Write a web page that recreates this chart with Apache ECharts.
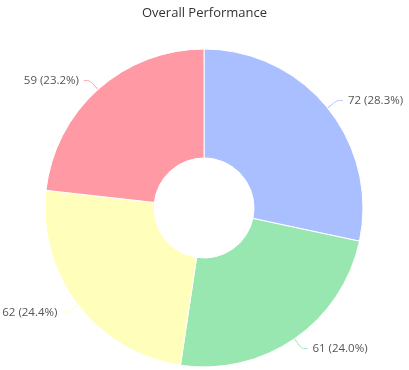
<!DOCTYPE html>
<html><head><meta charset="utf-8">
<script src="https://cdn.jsdelivr.net/npm/echarts@6/dist/echarts.min.js"></script>
<style>html,body{margin:0;padding:0;background:#fff}#c{width:409px;height:370px}</style>
</head><body><div id="c"></div>
<script>
const categories = ['A', 'B', 'C', 'D'];
const values = [72, 61, 62, 59];
const colors = ['#aabfff', '#98e6b0', '#ffffbb', '#ff99a4'];
const total = values.reduce((a, b) => a + b, 0);
const chart = echarts.init(document.getElementById('c'));
chart.setOption({
  animation: false,
  title: { text: 'Overall Performance', left: 'center', top: 2,
    textStyle: { fontFamily: 'Open Sans', fontSize: 13, fontWeight: 'normal', color: '#333' } },
  series: [{
    type: 'pie',
    center: [204, 208],
    radius: [50, 159],
    startAngle: 90,
    data: categories.map((c, i) => ({ name: c, value: values[i], itemStyle: { color: colors[i] } })),
    itemStyle: { borderColor: '#fff', borderWidth: 1 },
    label: { formatter: p => p.value + ' (' + (p.value / total * 100).toFixed(1) + '%)',
      fontFamily: 'Open Sans', fontSize: 11.5, color: '#555', overflow: 'none' },
    labelLayout: { hideOverlap: false },
    labelLine: { length: 12, length2: 6, smooth: true, lineStyle: { width: 1 } }
  }]
});
</script></body></html>
